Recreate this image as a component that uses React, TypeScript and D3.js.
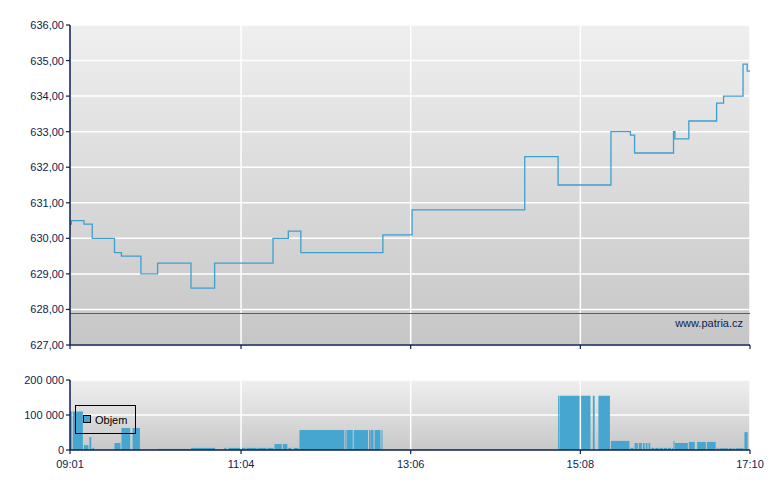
import React from "react";
import * as d3 from "d3";

const priceTimes = ["09:01","09:02","09:11","09:17","09:33","09:38","09:52","10:04","10:28","10:45","11:27","11:38","11:47","12:46","13:07","14:28","14:52","15:30","15:44","15:47","16:15","16:16","16:26","16:46","16:51","17:05","17:08","17:10"];
const priceValues = [630.4,630.5,630.4,630.0,629.6,629.5,629.0,629.3,628.6,629.3,630.0,630.2,629.6,630.1,630.8,632.3,631.5,633.0,632.9,632.4,633.0,632.8,633.3,633.8,634.0,634.9,634.7,634.7];

const volStarts = ["09:01","09:03","09:11","09:15","09:17","09:33","09:38","09:46","10:04","10:28","10:52","10:55","11:08","11:16","11:23","11:28","11:34","11:38","11:42","11:46","12:19","12:20","12:25","12:36","12:37","12:40","12:45",
  "14:52","14:53","15:17","15:21","15:30","15:44","15:47","15:50","15:53","15:55","15:57","15:59","16:02","16:05","16:08","16:11","16:14","16:15","16:16","16:26","16:32","16:39","16:46","16:48","16:55","16:58","17:00","17:06","17:09"];
const volEnds = ["09:03","09:11","09:15","09:17","09:19","09:38","09:45","09:52","10:28","10:46","10:54","11:08","11:16","11:23","11:28","11:34","11:38","11:41","11:46","12:19","12:20","12:25","12:36","12:37","12:40","12:45","12:46",
  "14:53","15:16","15:19","15:30","15:44","15:47","15:50","15:53","15:55","15:57","15:59","16:02","16:05","16:08","16:11","16:14","16:15","16:16","16:26","16:31","16:39","16:46","16:48","16:55","16:58","17:00","17:06","17:09","17:10"];
const volValues = [110000,110000,14000,37000,6000,20000,63000,63000,3000,6000,6000,6000,6000,6000,6000,17000,17000,6000,6000,57000,57000,57000,57000,57000,57000,57000,57000,
  155000,155000,155000,155000,26000,6000,20000,20000,20000,20000,20000,6000,6000,6000,6000,6000,6000,26000,20000,23000,23000,23000,5000,5000,5000,5000,5000,51000,1500];

const xTickLabels = ["09:01","11:04","13:06","15:08","17:10"];
const priceTicks = [627,628,629,630,631,632,633,634,635,636];
const volTicks = [0,100000,200000];
const prevClose = 627.9;
const legendLabel = "Objem";
const watermark = "www.patria.cz";

const toMin = (s: string) => {
  const [h, m] = s.split(":").map(Number);
  return h * 60 + m;
};

const W = 780, H = 490;
const L = 70, R = 750;
const pTop = 25, pBot = 345;
const vTop = 380, vBot = 450;
const axisColor = "#0a1f4f";
const textColor = "#0c2453";
const lineColor = "#3f9fcd";
const barColor = "#46a6cf";
const font = "'Liberation Sans', Arial, sans-serif";

export default function App() {
  const x = d3.scaleLinear().domain([toMin("09:01"), toMin("17:10")]).range([L, R]);
  const y = d3.scaleLinear().domain([627, 636]).range([pBot, pTop]);
  const yv = d3.scaleLinear().domain([0, 200000]).range([vBot, vTop]);
  const xTicks = xTickLabels.map(toMin);

  const pts = priceTimes.map((t, i) => [toMin(t), priceValues[i]] as [number, number]);
  const line = d3.line<[number, number]>().x(d => x(d[0])).y(d => y(d[1])).curve(d3.curveStepAfter);
  const fmtPrice = (v: number) => d3.format(".2f")(v).replace(".", ",");
  const fmtVol = (v: number) => d3.format(",")(v).replace(/,/g, " ");
  const pcY = Math.floor(y(prevClose)) + 0.5;

  return (
    <svg width={W} height={H} style={{ position: "absolute", left: 0, top: 0, background: "#fff" }} fontFamily={font}>
      <defs>
        <linearGradient id="gp" x1="0" y1="0" x2="0" y2="1">
          <stop offset="0" stopColor="#efefef" />
          <stop offset="1" stopColor="#c6c6c6" />
        </linearGradient>
        <linearGradient id="gv" x1="0" y1="0" x2="0" y2="1">
          <stop offset="0" stopColor="#efefef" />
          <stop offset="1" stopColor="#c8c8c8" />
        </linearGradient>
      </defs>

      {/* price panel */}
      <rect x={L} y={pTop} width={R - L} height={pBot - pTop} fill="url(#gp)" />
      {priceTicks.map(t => (
        <line key={"hg" + t} x1={L} x2={R} y1={y(t)} y2={y(t)} stroke="#fff" strokeWidth={1.5} />
      ))}
      {xTicks.slice(1).map(t => (
        <line key={"vg" + t} x1={x(t)} x2={x(t)} y1={pTop} y2={pBot} stroke="#fff" strokeWidth={1.5} />
      ))}
      <line x1={L} x2={R} y1={pcY} y2={pcY} stroke="#c8322a" strokeWidth={1} />
      <path d={line(pts) || ""} fill="none" stroke={lineColor} strokeWidth={1.3} />
      <text x={743} y={327} textAnchor="end" fontSize={11} fill={textColor}>{watermark}</text>
      <line x1={L} x2={L} y1={pTop} y2={pBot} stroke={axisColor} strokeWidth={1.5} />
      <line x1={L} x2={R} y1={pBot} y2={pBot} stroke={axisColor} strokeWidth={1.5} />
      {priceTicks.map(t => (
        <g key={"pt" + t}>
          <line x1={L - 4} x2={L} y1={y(t)} y2={y(t)} stroke={axisColor} strokeWidth={1.2} />
          <text x={L - 6} y={y(t) + 4} textAnchor="end" fontSize={11} fill={textColor}>{fmtPrice(t)}</text>
        </g>
      ))}
      {xTicks.map(t => (
        <line key={"px" + t} x1={x(t)} x2={x(t)} y1={pBot} y2={pBot + 4} stroke={axisColor} strokeWidth={1.2} />
      ))}

      {/* volume panel */}
      <rect x={L} y={vTop} width={R - L} height={vBot - vTop} fill="url(#gv)" />
      {volTicks.slice(1).map(t => (
        <line key={"vh" + t} x1={L} x2={R} y1={yv(t)} y2={yv(t)} stroke="#fff" strokeWidth={1.5} />
      ))}
      {volStarts.map((s, i) => {
        const x0 = x(toMin(s));
        const x1 = x(toMin(volEnds[i]));
        const w = Math.max(1, x1 - x0 - 1);
        return <rect key={"vb" + i} x={x0} y={yv(volValues[i])} width={w} height={vBot - yv(volValues[i])} fill={barColor} />;
      })}
      {xTicks.slice(1).map(t => (
        <line key={"vvg" + t} x1={x(t)} x2={x(t)} y1={vTop} y2={vBot} stroke="#fff" strokeWidth={1.5} />
      ))}
      <line x1={L} x2={L} y1={vTop} y2={vBot} stroke={axisColor} strokeWidth={1.5} />
      <line x1={L} x2={R} y1={vBot} y2={vBot} stroke={axisColor} strokeWidth={1.5} />
      {volTicks.map(t => (
        <g key={"vt" + t}>
          <line x1={L - 4} x2={L} y1={yv(t)} y2={yv(t)} stroke={axisColor} strokeWidth={1.2} />
          <text x={L - 6} y={yv(t) + 4} textAnchor="end" fontSize={11} fill={textColor}>{fmtVol(t)}</text>
        </g>
      ))}
      {xTicks.map((t, i) => (
        <g key={"vx" + t}>
          <line x1={x(t)} x2={x(t)} y1={vBot} y2={vBot + 4} stroke={axisColor} strokeWidth={1.2} />
          <text x={x(t)} y={vBot + 18} textAnchor="middle" fontSize={11} fill={textColor}>{xTickLabels[i]}</text>
        </g>
      ))}

      {/* legend */}
      <rect x={75.5} y={405.5} width={60} height={28} fill="none" stroke="#000" strokeWidth={1} />
      <rect x={83.5} y={415.5} width={7} height={7} fill={barColor} stroke="#000" strokeWidth={1} />
      <text x={95} y={424} fontSize={11} fill="#000">{legendLabel}</text>
    </svg>
  );
}
